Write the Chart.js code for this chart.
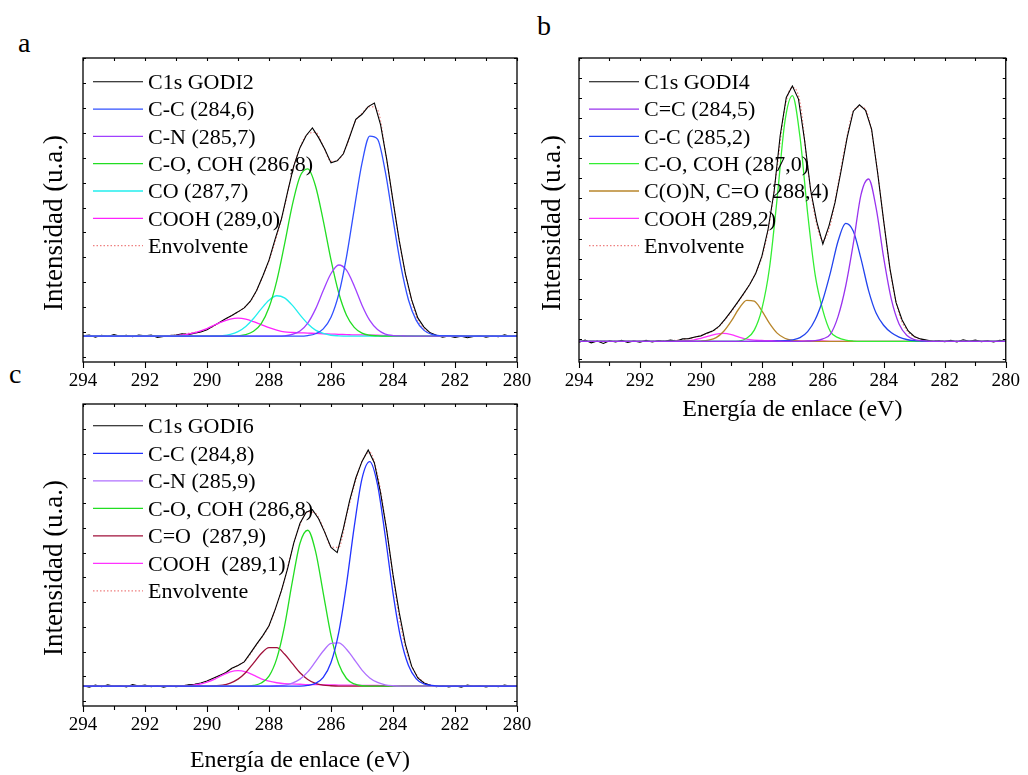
<!DOCTYPE html>
<html>
<head>
<meta charset="utf-8">
<script src="https://cdn.jsdelivr.net/npm/chart.js@4.4.0/dist/chart.umd.min.js"></script>
<style>
  body { margin: 0; background: #fff; width: 1028px; height: 775px; position: relative; overflow: hidden; }
  canvas { position: absolute; }
  .tag { position: absolute; font-family: "Liberation Serif", serif; font-size: 28px; line-height: 28px; color: #000; }
</style>
</head>
<body>
<div class="tag" style="left:18px; top:29px">a</div>
<div class="tag" style="left:537px; top:12px">b</div>
<div class="tag" style="left:9px; top:360px">c</div>
<canvas id="chart_a" width="540" height="400" style="left:0; top:0"></canvas>
<canvas id="chart_b" width="498" height="430" style="left:530px; top:0"></canvas>
<canvas id="chart_c" width="540" height="395" style="left:0; top:390px"></canvas>
<script>
// binding energy grids (eV): measured spectrum and fitted components
const energy_raw = [
  294.0, 293.8, 293.6, 293.4, 293.2, 293.0, 292.8, 292.6, 292.4, 292.2,
  292.0, 291.8, 291.6, 291.4, 291.2, 291.0, 290.8, 290.6, 290.4, 290.2,
  290.0, 289.8, 289.6, 289.4, 289.2, 289.0, 288.8, 288.6, 288.4, 288.2,
  288.0, 287.8, 287.6, 287.4, 287.2, 287.0, 286.8, 286.6, 286.4, 286.2,
  286.0, 285.8, 285.6, 285.4, 285.2, 285.0, 284.8, 284.6, 284.4, 284.2,
  284.0, 283.8, 283.6, 283.4, 283.2, 283.0, 282.8, 282.6, 282.4, 282.2,
  282.0, 281.8, 281.6, 281.4, 281.2, 281.0, 280.8, 280.6, 280.4, 280.2,
  280.0
];
const energy_fit = [
  294, 291.5, 291.25, 291.0, 290.75, 290.5, 290.25, 290.0, 289.75, 289.5,
  289.25, 289.0, 288.75, 288.5, 288.25, 288.0, 287.75, 287.5, 287.25, 287.0,
  286.75, 286.5, 286.25, 286.0, 285.75, 285.5, 285.25, 285.0, 284.75, 284.5,
  284.25, 284.0, 283.75, 283.5, 283.25, 283.0, 282.75, 282.5, 280
];

const x_title = "Energía de enlace (eV)";
const y_title = "Intensidad (u.a.)";

// GODI2
const labels_godi2 = ["C1s GODI2", "C-C (284,6)", "C-N (285,7)", "C-O, COH (286,8)", "CO (287,7)", "COOH (289,0)", "Envolvente"];
const godi2_raw = [
  8.6, 8.9, 8.2, 8.8, 8.4, 9.0, 8.5, 8.8, 8.3, 8.9,
  8.6, 8.9, 8.1, 8.4, 8.7, 8.9, 9.3, 9.0, 9.5, 9.9,
  10.6, 11.8, 13.0, 14.2, 15.3, 16.5, 17.8, 20.0, 23.5, 28.3,
  33.5, 40.5, 47.0, 56.0, 64.5, 70.5, 74.5, 77.0, 73.8, 70.0,
  65.5, 66.2, 68.5, 74.0, 79.8, 81.5, 84.0, 85.2, 78.0, 66.5,
  53.0, 40.0, 29.0, 20.5, 14.5, 11.5, 9.6, 8.8, 8.2, 8.6,
  8.1, 8.5, 8.0, 8.4, 8.7, 8.2, 8.6, 8.3, 8.9, 8.4,
  8.6
];
const godi2_cc = [
  8.5, 8.5, 8.5, 8.5, 8.5, 8.5, 8.5, 8.5, 8.5, 8.5,
  8.5, 8.5, 8.5, 8.5, 8.5, 8.5, 8.5, 8.5, 8.5, 8.5,
  8.7, 9.3, 10.9, 14.7, 22.3, 34.6, 50.3, 65.4, 74.3, 73.3,
  62.7, 47.0, 31.8, 20.4, 13.7, 10.4, 9.1, 8.7, 8.5
];
const godi2_cn = [
  8.5, 8.5, 8.5, 8.5, 8.5, 8.5, 8.5, 8.5, 8.5, 8.5,
  8.5, 8.5, 8.5, 8.5, 8.5, 8.5, 8.5, 8.6, 9.1, 10.2,
  12.8, 17.4, 23.5, 29.1, 31.9, 30.2, 25.0, 18.7, 13.7, 10.7,
  9.2, 8.7, 8.6, 8.5, 8.5, 8.5, 8.5, 8.5, 8.5
];
const godi2_co = [
  8.5, 8.5, 8.5, 8.5, 8.5, 8.5, 8.5, 8.5, 8.5, 8.5,
  8.5, 8.6, 9.0, 10.1, 12.6, 17.9, 26.7, 38.7, 51.5, 61.0,
  63.5, 57.9, 46.5, 33.6, 22.7, 15.4, 11.4, 9.5, 8.8, 8.6,
  8.5, 8.5, 8.5, 8.5, 8.5, 8.5, 8.5, 8.5, 8.5
];
const godi2_carbonyl = [
  8.5, 8.5, 8.5, 8.5, 8.5, 8.5, 8.5, 8.5, 8.6, 8.7,
  9.1, 10.0, 11.7, 14.3, 17.5, 20.3, 21.8, 21.1, 18.7, 15.5,
  12.6, 10.5, 9.4, 8.8, 8.6, 8.5, 8.5, 8.5, 8.5, 8.5,
  8.5, 8.5, 8.5, 8.5, 8.5, 8.5, 8.5, 8.5, 8.5
];
const godi2_cooh = [
  8.5, 8.5, 8.6, 8.7, 8.9, 9.4, 10.1, 11.0, 12.2, 13.3,
  14.1, 14.4, 14.1, 13.3, 12.3, 11.3, 10.5, 9.9, 9.7, 9.6,
  9.5, 9.4, 9.3, 9.2, 9.1, 9.0, 8.9, 8.9, 8.8, 8.8,
  8.7, 8.7, 8.6, 8.6, 8.5, 8.5, 8.5, 8.5, 8.5
];
const godi2_env = [
  8.5, 8.6, 8.7, 8.9, 9.2, 9.6, 10.0, 10.7, 12.0, 13.5,
  15.0, 16.5, 18.3, 21.5, 27.0, 33.3, 41.5, 51.0, 62.5, 70.5,
  75.0, 75.5, 71.0, 66.0, 66.6, 71.0, 78.5, 81.8, 84.0, 83.0,
  69.5, 53.0, 37.0, 24.5, 15.0, 11.0, 9.3, 8.7, 8.4
];

// GODI4
const labels_godi4 = ["C1s GODI4", "C=C (284,5)", "C-C (285,2)", "C-O, COH (287,0)", "C(O)N, C=O (288,4)", "COOH (289,2)", "Envolvente"];
const godi4_raw = [
  6.5, 7.2, 6.3, 6.9, 6.1, 7.0, 6.6, 7.1, 6.4, 6.9,
  6.5, 7.1, 6.6, 7.0, 6.8, 7.2, 6.9, 7.6, 7.7, 8.2,
  8.6, 9.5, 10.3, 11.8, 14.2, 16.8, 19.6, 22.5, 25.5, 29.2,
  34.8, 43.5, 56.0, 74.5, 87.0, 90.8, 86.5, 73.0, 56.5, 46.2,
  38.8, 44.8, 52.5, 63.0, 74.0, 82.5, 84.6, 82.8, 76.5, 62.0,
  46.0, 30.8, 19.6, 13.8, 10.2, 8.4, 7.6, 7.2, 6.8, 7.0,
  6.7, 7.1, 6.6, 7.3, 6.8, 7.2, 6.7, 7.0, 6.6, 7.1,
  6.8
];
const godi4_sp2 = [
  6.8, 6.8, 6.8, 6.8, 6.8, 6.8, 6.8, 6.8, 6.8, 6.8,
  6.8, 6.8, 6.8, 6.8, 6.8, 6.8, 6.8, 6.8, 6.8, 6.8,
  6.8, 6.9, 7.0, 7.6, 9.2, 15.0, 25.0, 39.0, 55.0, 60.2,
  50.5, 34.0, 20.5, 12.5, 8.8, 7.4, 7.0, 6.8, 6.8
];
const godi4_cc = [
  6.8, 6.8, 6.8, 6.8, 6.8, 6.8, 6.8, 6.8, 6.8, 6.8,
  6.8, 6.8, 6.8, 6.8, 6.8, 6.8, 6.8, 6.9, 7.0, 7.3,
  8.0, 10.0, 14.0, 20.5, 29.5, 39.8, 45.6, 43.0, 34.0, 23.5,
  16.0, 12.0, 9.6, 8.2, 7.4, 7.0, 6.9, 6.8, 6.8
];
const godi4_co = [
  6.8, 6.8, 6.8, 6.8, 6.8, 6.8, 6.8, 6.8, 6.8, 6.8,
  6.8, 6.8, 6.9, 7.8, 10.5, 17.5, 31.0, 53.8, 78.7, 87.6,
  74.0, 49.0, 28.5, 17.0, 10.0, 8.0, 7.2, 6.9, 6.8, 6.8,
  6.8, 6.8, 6.8, 6.8, 6.8, 6.8, 6.8, 6.8, 6.8
];
const godi4_amide = [
  6.8, 6.8, 6.8, 6.8, 6.8, 6.8, 6.8, 6.9, 7.2, 8.0,
  10.1, 13.5, 17.6, 20.3, 20.0, 16.8, 12.7, 9.5, 7.8, 7.1,
  6.9, 6.8, 6.8, 6.8, 6.8, 6.8, 6.8, 6.8, 6.8, 6.8,
  6.8, 6.8, 6.8, 6.8, 6.8, 6.8, 6.8, 6.8, 6.8
];
const godi4_cooh = [
  6.8, 6.8, 6.8, 6.8, 6.9, 7.0, 7.2, 7.8, 8.5, 9.2,
  9.4, 9.0, 8.2, 7.5, 7.2, 7.1, 7.0, 7.0, 6.9, 6.9,
  6.9, 6.9, 6.9, 6.9, 6.8, 6.8, 6.8, 6.8, 6.8, 6.8,
  6.8, 6.8, 6.8, 6.8, 6.8, 6.8, 6.8, 6.8, 6.8
];
const godi4_env = [
  6.8, 6.8, 6.9, 7.0, 7.2, 7.6, 8.0, 8.7, 9.6, 10.8,
  13.4, 16.6, 20.2, 23.9, 28.4, 34.5, 45.8, 64.0, 83.5, 90.3,
  85.5, 64.0, 47.5, 40.0, 45.5, 58.5, 72.0, 82.5, 84.0, 80.5,
  66.0, 46.0, 27.5, 16.0, 10.5, 8.3, 7.4, 7.0, 6.8
];

// GODI6
const labels_godi6 = ["C1s GODI6", "C-C (284,8)", "C-N (285,9)", "C-O, COH (286,8)", "C=O  (287,9)", "COOH  (289,1)", "Envolvente"];
const godi6_raw = [
  6.7, 6.2, 6.9, 6.4, 7.0, 6.5, 6.8, 6.3, 7.1, 6.6,
  6.9, 6.4, 6.8, 6.2, 6.7, 6.4, 6.6, 7.0, 7.2, 7.6,
  8.3, 9.2, 10.1, 11.0, 12.5, 13.4, 14.6, 17.5, 20.5, 23.3,
  26.6, 32.0, 38.2, 45.5, 54.0, 60.5, 64.2, 65.0, 62.0, 57.5,
  52.5, 50.8, 58.8, 68.0, 75.5, 81.0, 84.8, 80.5, 70.5, 58.0,
  43.5, 31.0, 20.5, 13.2, 9.3, 7.6, 6.9, 6.4, 6.8, 6.3,
  6.7, 6.2, 6.9, 6.5, 6.8, 6.3, 6.7, 6.4, 6.9, 6.5,
  6.6
];
const godi6_cc = [
  6.6, 6.6, 6.6, 6.6, 6.6, 6.6, 6.6, 6.6, 6.6, 6.6,
  6.6, 6.6, 6.6, 6.6, 6.6, 6.6, 6.6, 6.6, 6.6, 6.6,
  6.8, 7.5, 9.5, 14.4, 24.4, 40.3, 59.4, 75.3, 80.9, 73.3,
  56.3, 37.4, 22.4, 13.4, 9.0, 7.3, 6.8, 6.6, 6.6
];
const godi6_cn = [
  6.6, 6.6, 6.6, 6.6, 6.6, 6.6, 6.6, 6.6, 6.6, 6.6,
  6.6, 6.6, 6.6, 6.6, 6.6, 6.6, 6.7, 6.9, 7.6, 8.9,
  11.3, 14.7, 18.2, 20.7, 20.9, 18.8, 15.4, 11.9, 9.3, 7.8,
  7.0, 6.7, 6.6, 6.6, 6.6, 6.6, 6.6, 6.6, 6.6
];
const godi6_co = [
  6.6, 6.6, 6.6, 6.6, 6.6, 6.6, 6.6, 6.6, 6.6, 6.6,
  6.6, 6.6, 6.6, 6.8, 7.6, 9.9, 15.7, 26.4, 41.0, 53.9,
  58.2, 51.3, 37.4, 23.4, 13.9, 9.1, 7.3, 6.7, 6.6, 6.6,
  6.6, 6.6, 6.6, 6.6, 6.6, 6.6, 6.6, 6.6, 6.6
];
const godi6_carbonyl = [
  6.6, 6.6, 6.6, 6.6, 6.6, 6.6, 6.6, 6.6, 6.7, 6.9,
  7.6, 8.9, 11.1, 14.2, 17.4, 19.3, 19.3, 17.2, 14.1, 11.0,
  8.8, 7.5, 6.9, 6.7, 6.6, 6.6, 6.6, 6.6, 6.6, 6.6,
  6.6, 6.6, 6.6, 6.6, 6.6, 6.6, 6.6, 6.6, 6.6
];
const godi6_cooh = [
  6.6, 6.6, 6.6, 6.6, 6.7, 6.8, 7.2, 7.9, 8.9, 10.2,
  11.3, 11.7, 11.3, 10.2, 9.0, 8.2, 7.7, 7.4, 7.3, 7.2,
  7.1, 7.1, 7.0, 7.0, 6.9, 6.9, 6.9, 6.8, 6.8, 6.8,
  6.7, 6.7, 6.6, 6.6, 6.6, 6.6, 6.6, 6.6, 6.6
];
const godi6_env = [
  6.6, 6.6, 6.6, 6.7, 6.8, 7.0, 7.4, 8.2, 9.3, 10.5,
  12.0, 13.5, 15.2, 18.8, 22.5, 26.5, 33.5, 41.8, 52.0, 60.0,
  64.3, 63.8, 59.0, 52.8, 52.5, 63.0, 73.0, 81.0, 84.0, 76.5,
  61.5, 43.0, 26.5, 16.0, 10.5, 7.8, 6.9, 6.6, 6.6
];

const SERIF = '"Liberation Serif", "Times New Roman", serif';

function toPoints(xs, ys) {
  return ys.map((v, i) => ({ x: xs[i], y: v }));
}

function buildDatasets(labels, colors, raw, comps, env) {
  const sets = [{
    label: labels[0],
    data: toPoints(energy_raw, raw),
    borderColor: "#000000",
    borderWidth: 1.1,
    tension: 0,
    order: 2,
  }];
  comps.forEach((c, i) => {
    sets.push({
      label: labels[i + 1],
      data: toPoints(energy_fit, c),
      borderColor: colors[i],
      borderWidth: 1.3,
      cubicInterpolationMode: "monotone",
      order: 1,
    });
  });
  sets.push({
    label: labels[6],
    data: toPoints(energy_fit, env),
    borderColor: "#ee8080",
    borderWidth: 1.2,
    borderDash: [1.5, 2],
    cubicInterpolationMode: "monotone",
    order: 3,
  });
  sets.forEach((s) => { s.pointRadius = 0; s.fill = false; });
  return sets;
}

// box around the plot with outward ticks on the energy axis, small inward ticks elsewhere
const framePlugin = {
  id: "frame",
  afterDraw(chart, args, opts) {
    const { ctx, chartArea: a, scales } = chart;
    const x = scales.x, y = scales.y;
    ctx.save();
    ctx.strokeStyle = "#000";
    ctx.lineWidth = 1.3;
    ctx.strokeRect(a.left, a.top, a.right - a.left, a.bottom - a.top);
    ctx.beginPath();
    ctx.lineWidth = 1.1;
    for (let e = x.min; e <= x.max; e += 1) {
      const px = Math.round(x.getPixelForValue(e)) + 0.5;
      const major = e % 2 === 0;
      ctx.moveTo(px, a.bottom);
      ctx.lineTo(px, a.bottom + (major ? 6 : 4));
      ctx.moveTo(px, a.top);
      ctx.lineTo(px, a.top + 3);
    }
    for (let v = y.max; v >= y.min; v -= opts.yStep) {
      const py = Math.round(y.getPixelForValue(v)) + 0.5;
      ctx.moveTo(a.left, py);
      ctx.lineTo(a.left + 3, py);
      ctx.moveTo(a.right, py);
      ctx.lineTo(a.right - 3, py);
    }
    ctx.stroke();
    ctx.restore();
  },
};

// rotated intensity label, sitting a little below the middle of the frame
const yTitlePlugin = {
  id: "yTitle",
  afterDraw(chart, args, opts) {
    const { ctx, chartArea: a } = chart;
    ctx.save();
    ctx.translate(opts.x, (a.top + a.bottom) / 2 + opts.shift);
    ctx.rotate(-Math.PI / 2);
    ctx.font = "27px " + SERIF;
    ctx.textAlign = "center";
    ctx.textBaseline = "middle";
    ctx.fillStyle = "#000";
    ctx.fillText(y_title, 0, 0);
    ctx.restore();
  },
};

// legend drawn inside the plot, upper left
const insideLegend = {
  id: "insideLegend",
  afterDraw(chart, args, opts) {
    const { ctx, chartArea: a } = chart;
    ctx.save();
    ctx.font = "22px " + SERIF;
    ctx.textBaseline = "middle";
    ctx.fillStyle = "#000";
    chart.data.datasets.forEach((ds, i) => {
      const yy = a.top + opts.top + i * opts.gap;
      ctx.strokeStyle = ds.borderColor;
      ctx.lineWidth = ds.borderWidth;
      ctx.setLineDash(ds.borderDash || []);
      ctx.beginPath();
      ctx.moveTo(a.left + 10, yy - 1.5);
      ctx.lineTo(a.left + 60, yy - 1.5);
      ctx.stroke();
      ctx.setLineDash([]);
      ctx.fillText(ds.label, a.left + 65, yy);
    });
    ctx.restore();
  },
};

function spectrumChart(id, datasets, g) {
  return new Chart(document.getElementById(id), {
    type: "line",
    data: { datasets: datasets },
    options: {
      responsive: false,
      animation: false,
      devicePixelRatio: 1,
      layout: { padding: { top: g.top, right: g.right, left: 0, bottom: 0 } },
      plugins: {
        legend: { display: false },
        tooltip: { enabled: false },
        frame: { yStep: g.yStep },
        yTitle: { x: g.yTitleX, shift: 13 },
        insideLegend: { top: g.legendTop, gap: g.legendGap },
      },
      scales: {
        x: {
          type: "linear",
          reverse: true,
          min: 280,
          max: 294,
          grid: { display: false, drawTicks: false },
          border: { display: false },
          ticks: {
            stepSize: 2,
            padding: 8,
            color: "#000",
            maxRotation: 0,
            autoSkip: false,
            font: { family: SERIF, size: 19 },
          },
          title: {
            display: g.xTitle,
            text: x_title,
            color: "#000",
            font: { family: SERIF, size: 24, lineHeight: 1.2 },
            padding: { top: 0, bottom: g.xTitlePad },
          },
          afterFit: (s) => { s.height = g.xAxisH; },
        },
        y: {
          min: 0,
          max: 100,
          grid: { display: false, drawTicks: false },
          border: { display: false },
          ticks: { display: false },
          afterFit: (s) => { s.width = g.yAxisW; },
        },
      },
    },
    plugins: [framePlugin, yTitlePlugin, insideLegend],
  });
}

spectrumChart("chart_a",
  buildDatasets(labels_godi2, ["#3050ff", "#a040ff", "#22dd22", "#22eeee", "#ff22ff"],
    godi2_raw, [godi2_cc, godi2_cn, godi2_co, godi2_carbonyl, godi2_cooh], godi2_env),
  { top: 58, right: 23, yAxisW: 83, xAxisH: 38, xTitle: false, xTitlePad: 0, yTitleX: 55,
    yStep: 8.2, legendTop: 25.3, legendGap: 27.3 });

spectrumChart("chart_b",
  buildDatasets(labels_godi4, ["#9933ee", "#2244ee", "#33ee33", "#b8862b", "#ff33ff"],
    godi4_raw, [godi4_sp2, godi4_cc, godi4_co, godi4_amide, godi4_cooh], godi4_env),
  { top: 58, right: 15, yAxisW: 49, xAxisH: 68, xTitle: true, xTitlePad: 6, yTitleX: 23,
    yStep: 6.6, legendTop: 25.3, legendGap: 27.3 });

spectrumChart("chart_c",
  buildDatasets(labels_godi6, ["#2233ff", "#b070ff", "#22dd22", "#a0103a", "#ff33ff"],
    godi6_raw, [godi6_cc, godi6_cn, godi6_co, godi6_carbonyl, godi6_cooh], godi6_env),
  { top: 14, right: 23, yAxisW: 83, xAxisH: 79, xTitle: true, xTitlePad: 10, yTitleX: 55,
    yStep: 8.2, legendTop: 23.3, legendGap: 27.5 });
</script>
</body>
</html>
